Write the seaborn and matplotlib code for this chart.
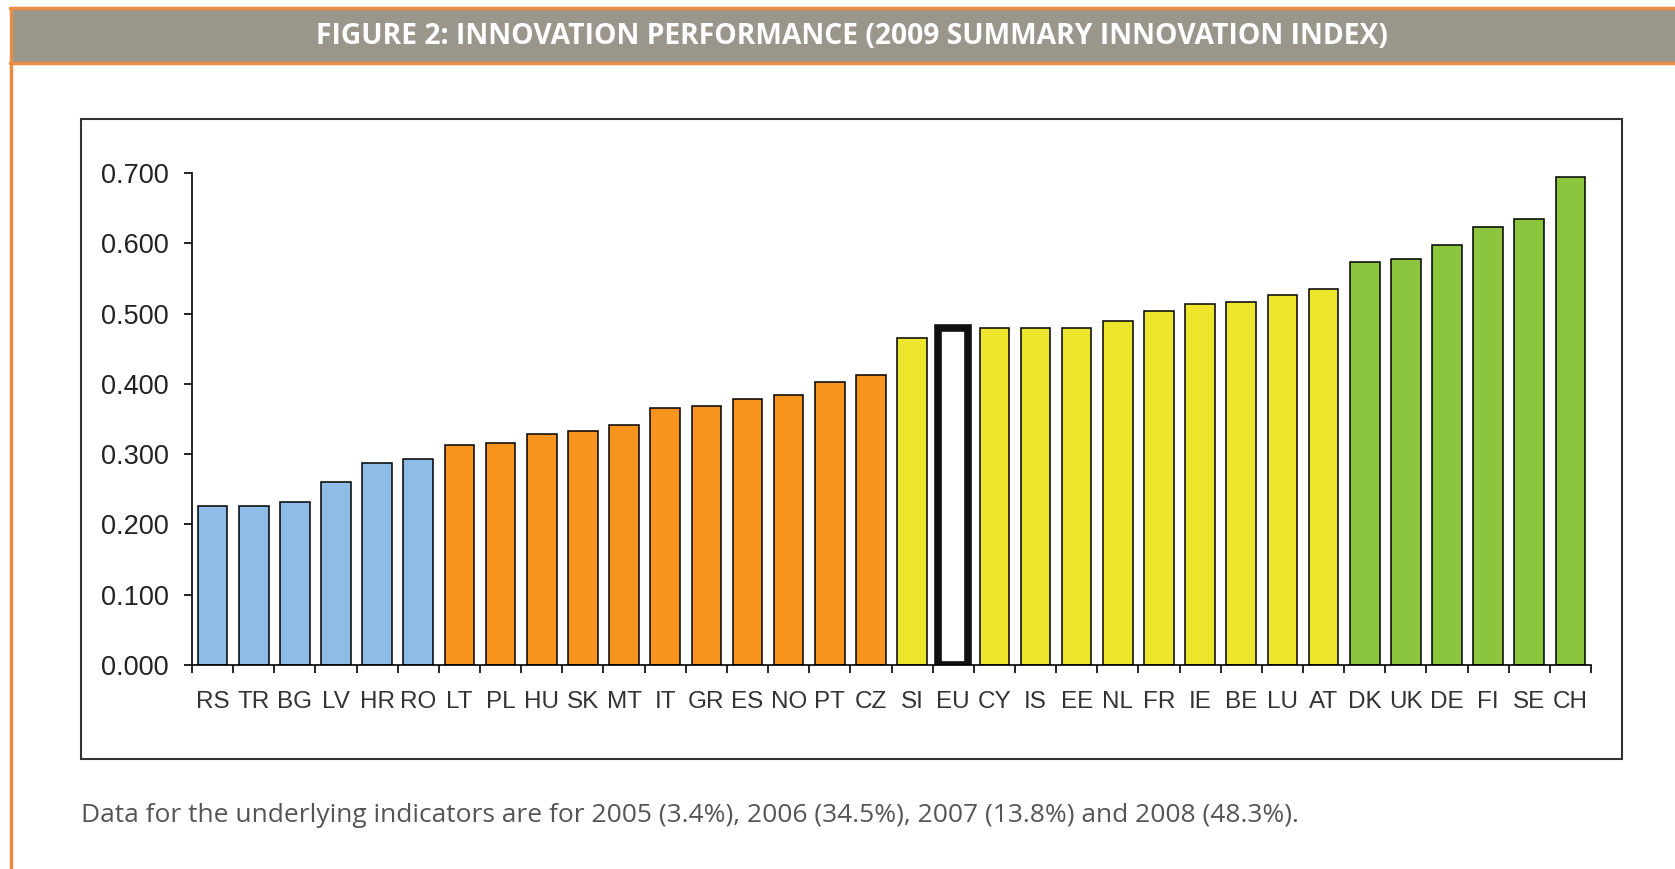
import numpy as np
import pandas as pd
import seaborn as sns
import matplotlib.pyplot as plt
from matplotlib.patches import Rectangle
from matplotlib.lines import Line2D

# ----- data -----
countries = ['RS', 'TR', 'BG', 'LV', 'HR', 'RO',
             'LT', 'PL', 'HU', 'SK', 'MT', 'IT', 'GR', 'ES', 'NO', 'PT', 'CZ',
             'SI', 'EU', 'CY', 'IS', 'EE', 'NL', 'FR', 'IE', 'BE', 'LU', 'AT',
             'DK', 'UK', 'DE', 'FI', 'SE', 'CH']
sii_2009 = [0.226, 0.226, 0.232, 0.261, 0.287, 0.293,
            0.313, 0.316, 0.329, 0.333, 0.342, 0.365, 0.368, 0.378, 0.384, 0.403, 0.413,
            0.465, 0.480, 0.480, 0.480, 0.480, 0.490, 0.503, 0.513, 0.516, 0.526, 0.535,
            0.574, 0.578, 0.597, 0.623, 0.635, 0.694]
groups = (['catching-up'] * 6 + ['moderate'] * 11 + ['follower'] + ['average']
          + ['follower'] * 9 + ['leader'] * 6)
group_colors = {'catching-up': '#8DBDE6', 'moderate': '#F7941E',
                'follower': '#EEE62C', 'average': 'white', 'leader': '#8CC63F'}
y_ticks = [0.0, 0.1, 0.2, 0.3, 0.4, 0.5, 0.6, 0.7]

title = 'FIGURE 2: INNOVATION PERFORMANCE (2009 SUMMARY INNOVATION INDEX)'
caption = ('Data for the underlying indicators are for 2005 (3.4%), 2006 (34.5%), '
           '2007 (13.8%) and 2008 (48.3%).')

df = pd.DataFrame({'country': countries, 'sii': sii_2009, 'group': groups})

sns.set_style('white')
plt.rcParams['font.family'] = ['Liberation Sans', 'DejaVu Sans']

W, H = 1675, 869
fig = plt.figure(figsize=(W / 100, H / 100), dpi=100)
fig.patch.set_facecolor('white')

# ----- banner and frame -----
orange = '#E98A45'
fig.patches.append(Rectangle((10 / W, 1 - 62 / H), 1 - 10 / W, 52 / H,
                             transform=fig.transFigure, facecolor='#9B968C',
                             edgecolor='none', zorder=0))
fig.lines.append(Line2D([10 / W, 1], [1 - 8 / H, 1 - 8 / H], transform=fig.transFigure,
                        color=orange, lw=2.5))
fig.lines.append(Line2D([10 / W, 1], [1 - 63 / H, 1 - 63 / H], transform=fig.transFigure,
                        color=orange, lw=2.5))
fig.lines.append(Line2D([10.5 / W, 10.5 / W], [0, 1 - 8 / H], transform=fig.transFigure,
                        color=orange, lw=2.5))
fig.text(852 / W, 1 - 37 / H, title, color='white', fontsize=20.3, fontweight='bold',
         ha='center', va='center', family=['Open Sans', 'DejaVu Sans'])

# chart box
fig.patches.append(Rectangle((81 / W, 1 - 759 / H), (1622 - 81) / W, (759 - 118.5) / H,
                             transform=fig.transFigure, fill=False,
                             edgecolor='#333333', lw=1.5))

# ----- bars -----
ax = fig.add_axes([192 / W, 1 - 665 / H, (1591 - 192) / W, (665 - 173) / H])
sns.barplot(data=df, x='country', y='sii', hue='group', palette=group_colors,
            dodge=False, width=0.72, saturation=1, edgecolor='black', linewidth=1.1,
            legend=False, ax=ax)

# EU average bar: white with heavy outline
for cont, lvl in zip(ax.containers, df['group'].unique()):
    if lvl == 'average':
        for bar in cont:
            bar.set_linewidth(5.5)
            bar.set_edgecolor('#111111')

ax.set_xlim(-0.5, len(countries) - 0.5)
ax.set_ylim(0, 0.7)
ax.set_yticks(y_ticks)
ax.set_yticklabels([f'{v:.3f}' for v in y_ticks])
ax.set_xlabel('')
ax.set_ylabel('')
ax.set_facecolor('white')

ax.set_xticks(np.arange(-0.5, len(countries), 1), minor=True)
ax.tick_params(axis='x', which='major', bottom=False, length=0, pad=19, labelsize=17.5,
               colors='#333333')
ax.tick_params(axis='x', which='minor', bottom=True, length=6, width=1.2, direction='out',
               color='black')
ax.tick_params(axis='y', left=True, length=6, width=1.2, direction='out', pad=11,
               labelsize=19.5, color='black', labelcolor='#222222')

for side in ['top', 'right']:
    ax.spines[side].set_visible(False)
for side in ['left', 'bottom']:
    ax.spines[side].set_color('black')
    ax.spines[side].set_linewidth(1.2)

# ----- caption -----
fig.text(81 / W, 1 - 815 / H, caption, fontsize=19, color='#555555', ha='left', va='center',
         family=['Open Sans', 'DejaVu Sans'])

fig.savefig('out.png', dpi=100)
